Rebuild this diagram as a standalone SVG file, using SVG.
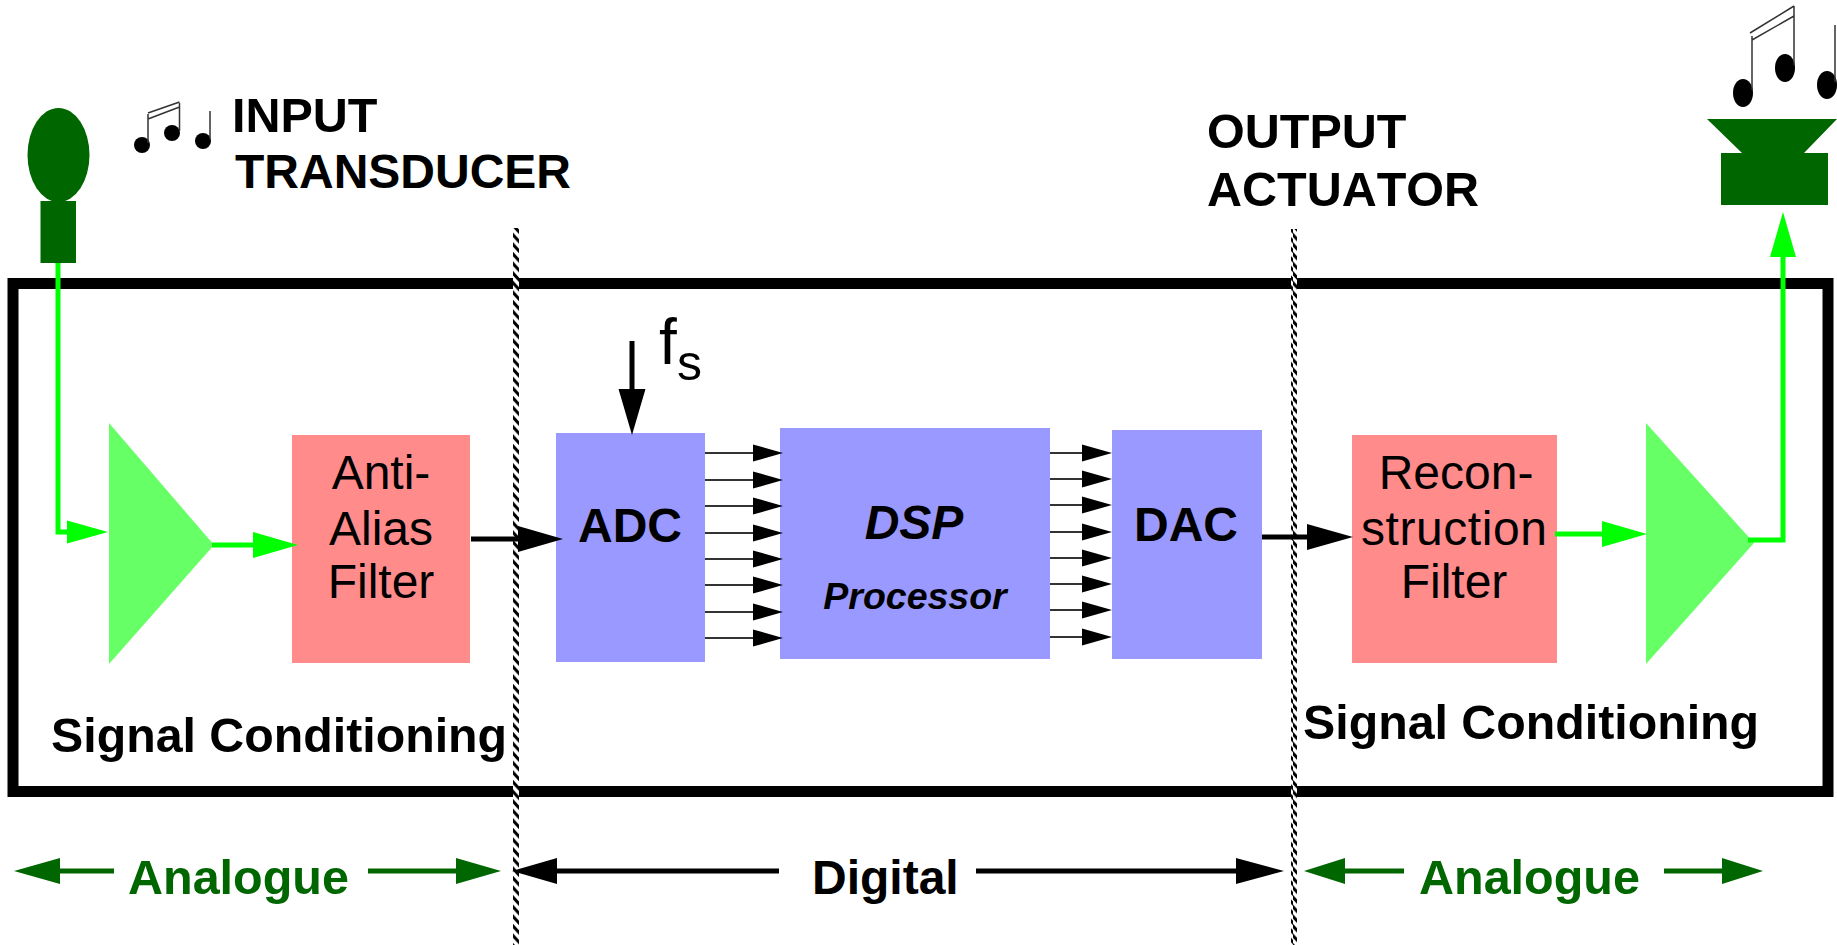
<svg xmlns="http://www.w3.org/2000/svg" width="1837" height="945" viewBox="0 0 1837 945">
<style>
text{font-family:"Liberation Sans",Arial,sans-serif;fill:#000;font-kerning:none}
.b{font-weight:bold}
.g{fill:#006600}
.m{text-anchor:middle}
.dk{fill:#006600}
.tri{fill:#66ff66}
.red{fill:#ff8b8b}
.blue{fill:#9999ff}
.gl{stroke:#00ff00;stroke-width:5;fill:none}
.bl{stroke:#000;stroke-width:5;fill:none}
.dl{stroke:#006600;stroke-width:5;fill:none}
.th{stroke:#333;stroke-width:2;fill:none}
.ns{stroke:#333;stroke-width:1.500;fill:none}
</style>
<defs>
<pattern id="hatch" x="513" y="228" width="6" height="9.600" patternUnits="userSpaceOnUse">
<rect width="6" height="9.600" fill="#fff"/>
<path d="M0 -5L6 1.500V6L0 -0.500ZM0 4.600L6 11.100V15.600L0 9.100Z" fill="#000"/>
</pattern>
</defs>
<rect width="1837" height="945" fill="#fff"/>
<g id="frame"><rect x="13" y="283.500" width="1815" height="508" fill="none" stroke="#000" stroke-width="11"/></g>
<g id="boundaries">
<rect x="513" y="228" width="6" height="717" fill="url(#hatch)"/>
<rect x="1291" y="229" width="6" height="716" fill="url(#hatch)"/>
</g>
<g id="microphone"><ellipse class="dk" cx="58.500" cy="155" rx="31" ry="47"/><rect class="dk" x="40.500" y="201" width="35.500" height="62"/></g>
<g id="notes-in">
<circle cx="142" cy="145" r="8"/><circle cx="172" cy="133" r="8"/><circle cx="203" cy="141" r="8"/>
<path class="ns" d="M148 143V114M179.500 131V103M148 113L179.500 102M148 119L179.500 107M210 139V111"/>
</g>
<g id="speaker"><path class="dk" d="M1707 119H1837L1804 153H1828V205H1721V153H1742Z"/></g>
<g id="notes-out">
<ellipse cx="1743" cy="93" rx="10" ry="14"/><ellipse cx="1785" cy="68" rx="10" ry="14"/><ellipse cx="1827" cy="85" rx="10" ry="14"/>
<path class="ns" d="M1752 90V36M1794 65V6M1835 82V25M1750 33L1794 6M1752 40L1794 16"/>
</g>
<g id="amp-in"><path class="tri" d="M109 423L214 545L109 664Z"/></g>
<g id="amp-out"><path class="tri" d="M1646 423L1754 543L1646 664Z"/></g>
<g id="anti-alias"><rect class="red" x="292" y="435" width="178" height="228"/>
<text class="m" font-size="48" x="381" y="489">Anti-</text><text class="m" font-size="48" x="381" y="545">Alias</text><text class="m" font-size="48" x="381" y="598">Filter</text></g>
<g id="adc"><rect class="blue" x="556" y="433" width="149" height="229"/><text class="b m" font-size="48" x="630" y="542">ADC</text></g>
<g id="dsp"><rect class="blue" x="780" y="428" width="270" height="231"/>
<text class="b m" font-size="48" font-style="italic" x="914" y="539">DSP</text><text class="b m" font-size="37.500" font-style="italic" x="915" y="609">Processor</text></g>
<g id="dac"><rect class="blue" x="1112" y="430" width="150" height="229"/><text class="b m" font-size="48" x="1186" y="541">DAC</text></g>
<g id="reconstruction"><rect class="red" x="1352" y="435" width="205" height="228"/>
<text class="m" font-size="48" x="1456" y="489">Recon-</text><text class="m" font-size="48" x="1454" y="545" textLength="186">struction</text><text class="m" font-size="48" x="1454" y="598">Filter</text></g>
<g id="connectors">
<path class="gl" d="M58 263V532H70"/><path fill="#00ff00" d="M67 520.500L108 532L67 543.500Z"/>
<path class="gl" d="M212 545H258"/><path fill="#00ff00" d="M253 532L298 545L253 558Z"/>
<path class="gl" d="M1555 534H1606"/><path fill="#00ff00" d="M1602 521L1647 534L1602 547Z"/>
<path class="gl" d="M1748 540H1783V250"/><path fill="#00ff00" d="M1770 257L1783 212L1796 257Z"/>
<path class="bl" d="M471 539H522"/><path d="M518 526L563 539L518 552Z"/>
<path class="bl" d="M1262 537H1312"/><path d="M1307 524L1353 537L1307 550Z"/>
<path class="bl" d="M632 341V392"/><path d="M618.500 389H645.500L632 435Z"/>
<path class="th" d="M705 453H756M705 480H756M705 506H756M705 533H756M705 559H756M705 585H756M705 612H756M705 638H756"/>
<path d="M753 444.500L783 453L753 461.500ZM753 471.500L783 480L753 488.500ZM753 497.500L783 506L753 514.500ZM753 524.500L783 533L753 541.500ZM753 550.500L783 559L753 567.500ZM753 576.500L783 585L753 593.500ZM753 603.500L783 612L753 620.500ZM753 629.500L783 638L753 646.500Z"/>
<path class="th" d="M1050 453H1085M1050 479H1085M1050 505H1085M1050 532H1085M1050 558H1085M1050 584H1085M1050 610H1085M1050 637H1085"/>
<path d="M1082 444.500L1112 453L1082 461.500ZM1082 470.500L1112 479L1082 487.500ZM1082 496.500L1112 505L1082 513.500ZM1082 523.500L1112 532L1082 540.500ZM1082 549.500L1112 558L1082 566.500ZM1082 575.500L1112 584L1082 592.500ZM1082 601.500L1112 610L1082 618.500ZM1082 628.500L1112 637L1082 645.500Z"/>
<path class="dl" d="M114 871H56"/><path class="dk" d="M60 858L14 871L60 884Z"/>
<path class="dl" d="M368 871H460"/><path class="dk" d="M456 858L501 871L456 884Z"/>
<path class="bl" d="M779 871H553"/><path d="M557 858L512 871L557 884Z"/>
<path class="bl" d="M976 871H1240"/><path d="M1236 858L1284 871L1236 884Z"/>
<path class="dl" d="M1404 871H1341"/><path class="dk" d="M1345 858L1304 871L1345 884Z"/>
<path class="dl" d="M1664 871H1726"/><path class="dk" d="M1722 858L1763 871L1722 884Z"/>
</g>
<g id="labels">
<text class="b" font-size="48.500" x="232" y="132">INPUT</text>
<text class="b" font-size="48" x="235" y="188">TRANSDUCER</text>
<text class="b" font-size="48.500" x="1207" y="148">OUTPUT</text>
<text class="b" font-size="48.500" x="1207" y="206">ACTUATOR</text>
<text font-size="64" x="659" y="364">f</text>
<text font-size="50" x="677" y="380">s</text>
<text class="b" font-size="48.300" x="51" y="752">Signal Conditioning</text>
<text class="b" font-size="48.300" x="1303" y="739">Signal Conditioning</text>
<text class="b g" font-size="48.500" x="128" y="894">Analogue</text>
<text class="b" font-size="48" x="812" y="894">Digital</text>
<text class="b g" font-size="48.500" x="1419" y="894">Analogue</text>
</g>
</svg>
